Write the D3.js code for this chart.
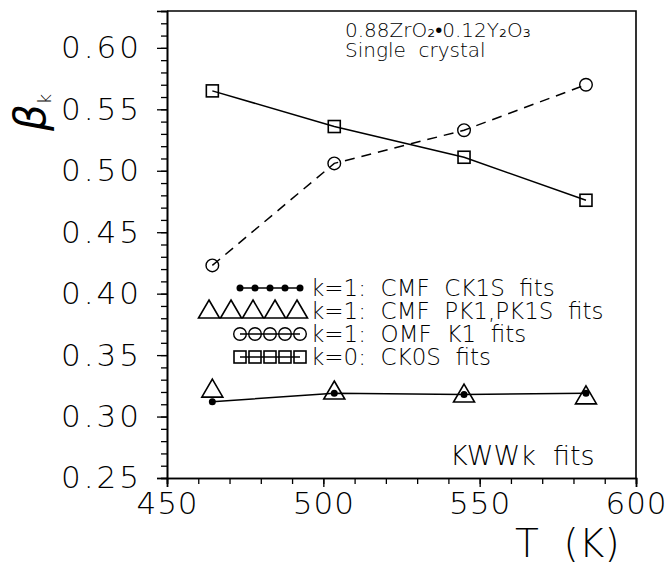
<!DOCTYPE html>
<html>
<head>
<meta charset="utf-8">
<script src="https://cdn.jsdelivr.net/npm/d3@7"></script>
<style>
  body { margin: 0; background: #fff; }
  svg text { font-family: "DejaVu Sans", sans-serif; font-weight: 200; fill: #000; }
</style>
</head>
<body>
<div id="chart"></div>
<script>
// The data
var temps = [464.5, 503.5, 545, 584];
var cmfCK1S = [0.312, 0.319, 0.318, 0.319];
var cmfPK1 = [0.3215, 0.320, 0.3175, 0.316];
var omfK1 = [0.423, 0.506, 0.533, 0.570];
var ck0s = [0.565, 0.536, 0.511, 0.476];

var legendLabels = ['k=1:  CMF  CK1S  fits', 'k=1:  CMF  PK1,PK1S  fits', 'k=1:  OMF  K1  fits', 'k=0:  CK0S  fits'];
var xMajor = [450, 500, 550, 600];
var yMajor = [0.25, 0.30, 0.35, 0.40, 0.45, 0.50, 0.55, 0.60];

var margin = { top: 11, right: 32, bottom: 91, left: 167 },
    width = 668 - margin.left - margin.right,
    height = 569 - margin.top - margin.bottom;

var svg = d3.select('#chart').append('svg')
    .attr('width', 668)
    .attr('height', 569)
  .append('g')
    .attr('transform', 'translate(' + margin.left + ',' + margin.top + ')');

var x = d3.scaleLinear().domain([450, 600]).range([0, width]);
var y = d3.scaleLinear().domain([0.25, 0.63]).range([height, 0]);

// minor ticks
svg.append('g')
    .attr('transform', 'translate(0,' + height + ')')
    .call(d3.axisBottom(x).tickValues(d3.range(450, 601, 10)).tickSize(6).tickFormat(''));
svg.append('g')
    .call(d3.axisLeft(y).tickValues(d3.range(25, 64).map(function(d) { return d / 100; })).tickSize(6).tickFormat(''));

// major ticks + labels
svg.append('g')
    .attr('class', 'xmaj')
    .attr('transform', 'translate(0,' + height + ')')
    .call(d3.axisBottom(x).tickValues(xMajor).tickSize(9).tickPadding(5).tickFormat(d3.format('d')));
svg.append('g')
    .attr('class', 'ymaj')
    .call(d3.axisLeft(y).tickValues(yMajor).tickSize(10).tickPadding(15).tickFormat(d3.format('.2f')));

svg.selectAll('.domain').attr('stroke-width', 1.6);
svg.selectAll('.tick line').attr('stroke-width', 1.3);
svg.selectAll('.tick text')
    .style('font-family', '"DejaVu Sans", sans-serif')
    .style('font-weight', 200)
    .style('font-size', '31px');
svg.selectAll('.ymaj .tick text').style('letter-spacing', '3px');
svg.selectAll('.xmaj .tick text').style('letter-spacing', '1px');

// frame top / right
svg.append('path')
    .attr('d', 'M0,0H' + width + 'V' + height)
    .attr('fill', 'none')
    .attr('stroke', '#000')
    .attr('stroke-width', 1.6);

var line = d3.line()
    .x(function(d) { return x(d[0]); })
    .y(function(d) { return y(d[1]); });

function pairs(vals) { return temps.map(function(t, i) { return [t, vals[i]]; }); }

svg.append('path').datum(pairs(ck0s)).attr('d', line)
    .attr('fill', 'none').attr('stroke', '#000').attr('stroke-width', 1.5);
svg.append('path').datum(pairs(omfK1)).attr('d', line)
    .attr('fill', 'none').attr('stroke', '#000').attr('stroke-width', 1.5)
    .attr('stroke-dasharray', '10,7');
svg.append('path').datum(pairs(cmfCK1S)).attr('d', line)
    .attr('fill', 'none').attr('stroke', '#000').attr('stroke-width', 1.5);

var triPath = 'M0,-11L10.5,7L-10.5,7Z';

function squares(g, pts) {
  g.selectAll(null).data(pts).enter().append('rect')
      .attr('x', function(d) { return d[0] - 6; })
      .attr('y', function(d) { return d[1] - 6; })
      .attr('width', 12).attr('height', 12)
      .attr('fill', 'none').attr('stroke', '#000').attr('stroke-width', 1.6);
}
function circles(g, pts) {
  g.selectAll(null).data(pts).enter().append('circle')
      .attr('cx', function(d) { return d[0]; })
      .attr('cy', function(d) { return d[1]; })
      .attr('r', 6.3)
      .attr('fill', 'none').attr('stroke', '#000').attr('stroke-width', 1.4);
}
function dots(g, pts) {
  g.selectAll(null).data(pts).enter().append('circle')
      .attr('cx', function(d) { return d[0]; })
      .attr('cy', function(d) { return d[1]; })
      .attr('r', 3.5)
      .attr('fill', '#000');
}
function triangles(g, pts) {
  g.selectAll(null).data(pts).enter().append('path')
      .attr('d', triPath)
      .attr('transform', function(d) { return 'translate(' + d[0] + ',' + d[1] + ')'; })
      .attr('fill', 'none').attr('stroke', '#000').attr('stroke-width', 1.6);
}

function scaled(vals) { return temps.map(function(t, i) { return [x(t), y(vals[i])]; }); }

squares(svg, scaled(ck0s));
circles(svg, scaled(omfK1));
triangles(svg, scaled(cmfPK1));
dots(svg, scaled(cmfCK1S));

// legend (page coordinates)
var leg = d3.select('svg').append('g');
var legY = [288, 311, 334, 357];
var legFns = [dots, triangles, circles, squares];
legFns.forEach(function(fn, i) {
  var x0 = i === 1 ? 209 : 240, step = i === 1 ? 22 : 15;
  var pts = d3.range(5).map(function(k) { return [x0 + k * step, legY[i]]; });
  if (i !== 1) {
    leg.append('line').attr('x1', pts[0][0]).attr('x2', pts[4][0])
        .attr('y1', legY[i]).attr('y2', legY[i])
        .attr('stroke', '#000').attr('stroke-width', 1.5);
  }
  fn(leg, pts);
  leg.append('text')
      .attr('x', 311).attr('y', legY[i]).attr('dy', '0.36em')
      .style('font-size', '23px')
      .style('white-space', 'pre')
      .text(legendLabels[i]);
});

// annotations
var ann = d3.select('svg').append('g').style('font-size', '20px');
ann.append('text').attr('x', 345).attr('y', 37).text('0.88ZrO\u2082\u20220.12Y\u2082O\u2083');
ann.append('text').attr('x', 345).attr('y', 57).style('white-space', 'pre').text('Single  crystal');

d3.select('svg').append('text')
    .attr('x', 450).attr('y', 465)
    .style('font-size', '27px').style('white-space', 'pre')
    .text('KWWk  fits');

// axis titles
d3.select('svg').append('text')
    .attr('x', 515).attr('y', 557)
    .style('font-size', '39px').style('white-space', 'pre')
    .text('T  (K)');

var yt = d3.select('svg').append('text')
    .attr('transform', 'translate(45,131) rotate(-90)')
    .style('font-size', '42px').style('font-style', 'italic');
yt.append('tspan').text('\u03b2');
yt.append('tspan').text('k').attr('dy', 6).style('font-size', '18px').style('font-style', 'normal');
</script>
</body>
</html>
